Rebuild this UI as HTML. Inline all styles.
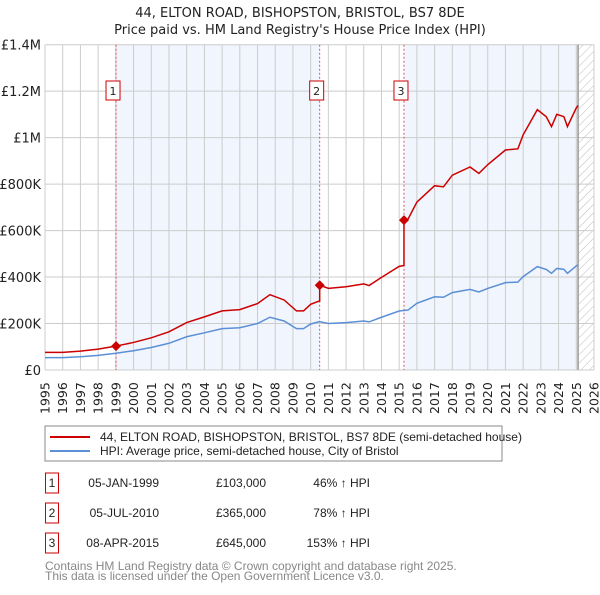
<!DOCTYPE html>
<html><head><meta charset="utf-8"><style>
body{margin:0;background:#fff;font-family:"Liberation Sans","DejaVu Sans",sans-serif;}
svg text{font-family:"DejaVu Sans","Liberation Sans",sans-serif;}
svg text.lib{font-family:"Liberation Sans","DejaVu Sans",sans-serif;}
</style></head><body>
<svg id="c" width="600" height="590" xmlns="http://www.w3.org/2000/svg">
<defs><pattern id="hatch" width="6" height="6" patternUnits="userSpaceOnUse" patternTransform="rotate(45)"><line x1="0" y1="0" x2="0" y2="6" stroke="#bbb" stroke-width="1"/></pattern></defs>
<text x="300" y="17" text-anchor="middle" font-size="13" fill="#222">44, ELTON ROAD, BISHOPSTON, BRISTOL, BS7 8DE</text>
<text x="300" y="34" text-anchor="middle" font-size="13" fill="#222">Price paid vs. HM Land Registry's House Price Index (HPI)</text>
<g id="plot"></g>
<rect x="45" y="426" width="457" height="35" fill="#fff" stroke="#888"/>
<line x1="50" y1="437" x2="90" y2="437" stroke="#cc0000" stroke-width="2"/>
<text class="lib" x="100" y="441" font-size="12" fill="#222">44, ELTON ROAD, BISHOPSTON, BRISTOL, BS7 8DE (semi-detached house)</text>
<line x1="50" y1="451" x2="90" y2="451" stroke="#5b8fd6" stroke-width="2"/>
<text class="lib" x="100" y="455" font-size="12" fill="#222">HPI: Average price, semi-detached house, City of Bristol</text>
<g id="table" font-size="11" fill="#222"></g>
<text class="lib" x="45" y="570" font-size="12" fill="#888">Contains HM Land Registry data © Crown copyright and database right 2025.</text>
<text class="lib" x="45" y="580" font-size="12" fill="#888">This data is licensed under the Open Government Licence v3.0.</text>
</svg>
<script>
const hpiYears=[1995,1996,1997,1998,1999,2000,2001,2002,2003,2004,2005,2006,2007,2007.7,2008.5,2009.2,2009.6,2010,2010.5,2011,2012,2013,2013.3,2014,2015,2015.5,2016,2017,2017.5,2018,2019,2019.5,2020,2021,2021.7,2022,2022.8,2023.3,2023.6,2023.9,2024.3,2024.5,2025,2025.1];
const hpiValues=[53000,53000,57000,63000,72000,83000,97000,115000,143000,160000,178000,182000,200000,227000,211000,178000,178000,198000,208000,200000,204000,211000,207000,227000,254000,258000,287000,315000,313000,333000,347000,336000,351000,376000,378000,402000,445000,433000,416000,437000,433000,416000,448000,452000];
const saleDates=[1999.01,2010.51,2015.27];
const salePrices=[103000,365000,645000];
const saleLabels=["1","2","3"];
const saleDateText=["05-JAN-1999","05-JUL-2010","08-APR-2015"];
const salePriceText=["£103,000","£365,000","£645,000"];
const saleHpiText=["46% ↑ HPI","78% ↑ HPI","153% ↑ HPI"];
const yTicks=[0,200000,400000,600000,800000,1000000,1200000,1400000];
const yTickLabels=["£0","£200K","£400K","£600K","£800K","£1M","£1.2M","£1.4M"];
const xTicks=[];for(let y=1995;y<=2026;y++)xTicks.push(y);
const dataEnd=2025.1;

const X0=45,X1=594,Y0=370,Y1=44.7;
const xs=t=>X0+(t-1995)/(2026-1995)*(X1-X0);
const ys=v=>Y0-v/1400000*(Y0-Y1);
const NS="http://www.w3.org/2000/svg";
const plot=document.getElementById('plot');
function mk(tag,attrs,parent){const e=document.createElementNS(NS,tag);for(const k in attrs)e.setAttribute(k,attrs[k]);(parent||plot).appendChild(e);return e;}
function hpiAt(t){for(let i=0;i<hpiYears.length-1;i++){if(t>=hpiYears[i]&&t<=hpiYears[i+1]){const f=(t-hpiYears[i])/(hpiYears[i+1]-hpiYears[i]);return hpiValues[i]+f*(hpiValues[i+1]-hpiValues[i]);}}return hpiValues[hpiValues.length-1];}

let r=mk('rect',{x:xs(saleDates[0]),y:Y1,width:xs(saleDates[1])-xs(saleDates[0]),height:Y0-Y1,fill:'#f1f5fd'});


r=mk('rect',{x:xs(saleDates[2]),y:Y1,width:xs(dataEnd)-xs(saleDates[2]),height:Y0-Y1,fill:'#f1f5fd'});


r=mk('rect',{x:xs(dataEnd),y:Y1,width:X1-xs(dataEnd),height:Y0-Y1,fill:'url(#hatch)'});


xTicks.forEach(t=>{const l=mk('line',{x1:xs(t),x2:xs(t),y1:Y1,y2:Y0,stroke:'#ccc','stroke-width':1});


const tx=mk('text',{x:0,y:0,'font-size':12.5,fill:'#222',transform:`translate(${xs(t)+4.5},414) rotate(-90)`});tx.textContent=t;

});
yTicks.forEach((v,i)=>{const l=mk('line',{x1:X0,x2:X1,y1:ys(v),y2:ys(v),stroke:'#ccc','stroke-width':1});


const tx=mk('text',{x:41,y:ys(v)+5,'font-size':13,fill:'#222','text-anchor':'end'});tx.textContent=yTickLabels[i];

});
const dl=mk('line',{x1:xs(dataEnd),x2:xs(dataEnd),y1:Y1,y2:Y0,stroke:'#999','stroke-width':1.5});


saleDates.forEach((d,i)=>{const l=mk('line',{x1:xs(d),x2:xs(d),y1:Y1,y2:Y0,stroke:'#e05555','stroke-width':1,'stroke-dasharray':'2,2'});


const b=mk('rect',{x:xs(d)-10,y:81,width:14,height:19,fill:'#fff',stroke:'#cc0000'});


const t=mk('text',{x:xs(d)-3,y:95,'font-size':11,'text-anchor':'middle',fill:'#222'});t.textContent=saleLabels[i];

});
const hp=mk('polyline',{points:hpiYears.map((t,i)=>xs(t)+','+ys(hpiValues[i])).join(' '),fill:'none',stroke:'#5b8fd6','stroke-width':1.5});


const ratios=saleDates.map((d,i)=>salePrices[i]/hpiAt(d));
function ratioAt(t){let k=0;for(let i=0;i<saleDates.length;i++)if(t>=saleDates[i])k=i;return ratios[k];}
const pts=[];
const allT=hpiYears.concat(saleDates).sort((a,b)=>a-b);
allT.forEach(t=>{const si=saleDates.indexOf(t);if(si>0){pts.push([t,hpiAt(t)*ratios[si-1]]);}pts.push([t,hpiAt(t)*ratioAt(t)]);});
const rp=mk('polyline',{points:pts.map(p=>xs(p[0])+','+ys(p[1])).join(' '),fill:'none',stroke:'#cc0000','stroke-width':1.5});


saleDates.forEach((d,i)=>{const cx=xs(d),cy=ys(salePrices[i]);const m=mk('polygon',{points:`${cx},${cy-5} ${cx+5},${cy} ${cx},${cy+5} ${cx-5},${cy}`,fill:'#cc0000'});

});
const tb=document.getElementById('table');
saleDates.forEach((d,i)=>{const y=483+i*30;
const b=mk('rect',{x:45.5,y:y-10,width:13,height:20,fill:'#fff',stroke:'#cc0000'},tb);


const cols=[[52,saleLabels[i],'middle'],[159,saleDateText[i],'end'],[266,salePriceText[i],'end'],[370,saleHpiText[i],'end']];
cols.forEach((c,j)=>{const t=mk('text',{x:c[0],y:y+4,'text-anchor':c[2],'font-size':12,fill:'#222','class':'lib'},tb);t.textContent=c[1];

});});
</script>
</body></html>
